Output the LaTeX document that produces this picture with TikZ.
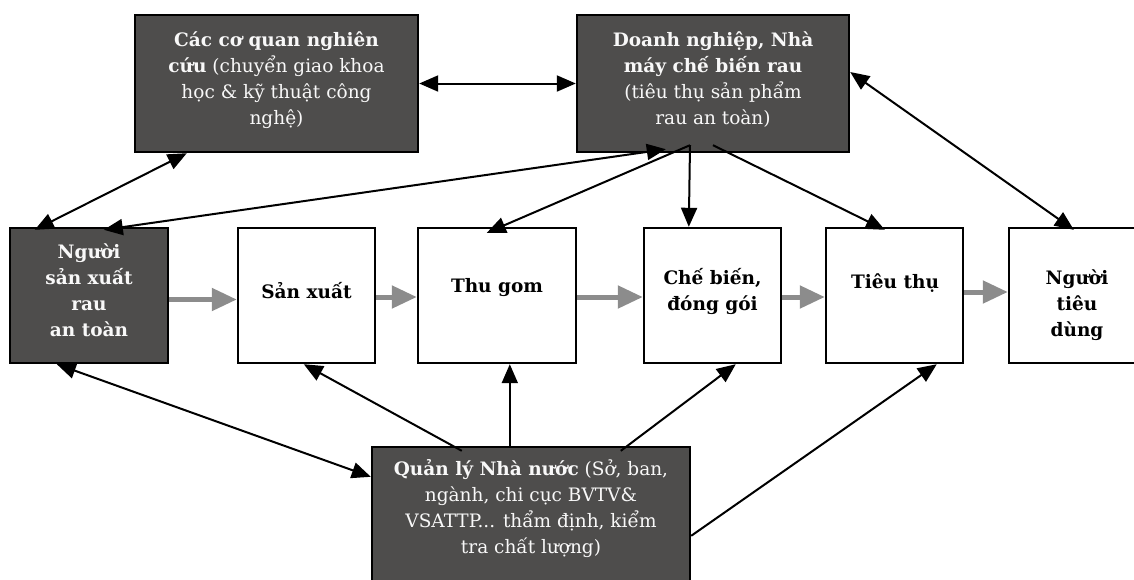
\documentclass[tikz,border=0pt]{standalone}
\usepackage{fontspec}
\setmainfont{DejaVu Serif}
\usetikzlibrary{arrows.meta}
\definecolor{boxdark}{RGB}{78, 77, 76}
\definecolor{flowgray}{RGB}{140, 140, 140}
\definecolor{textlight}{RGB}{248, 248, 248}
\newcommand{\boxfont}{\fontsize{18.5pt}{26pt}\selectfont}

\tikzset{
  darkbox/.style={draw=black, fill=boxdark, line width=2.4pt, inner sep=0pt},
  lightbox/.style={draw=black, fill=white, line width=2.4pt, inner sep=0pt},
  darktext/.style={text=textlight, align=center, font=\boxfont},
  lighttext/.style={text=black, align=center, font=\boxfont\bfseries},
  flow/.style={draw=flowgray, line width=5pt, -{Triangle[length=25pt, width=22pt]}},
  link/.style={line width=2pt}
}

\begin{document}
\begin{tikzpicture}[x=1pt, y=-1pt, >={Triangle[length=19pt, width=16pt]}]
    % Page frame (1134 x 579)
    \useasboundingbox (0,0) rectangle (1134,579);
    \clip (0,0) rectangle (1134,579);

    % 1. Top row
    \node[darkbox, minimum width=283, minimum height=137] (nghiencuu) at (276.5, 83.5) {};
    \node[darkbox, minimum width=272, minimum height=137] (doanhnghiep) at (713, 83.5) {};

    % 2. Middle row (chain)
    \node[darkbox, minimum width=158, minimum height=135] (nguoisx) at (89, 295.5) {};
    \node[lightbox, minimum width=137, minimum height=135] (sanxuat) at (306.5, 295.5) {};
    \node[lightbox, minimum width=158, minimum height=135] (thugom) at (497, 295.5) {};
    \node[lightbox, minimum width=137, minimum height=135] (chebien) at (712.5, 295.5) {};
    \node[lightbox, minimum width=137, minimum height=135] (tieuthu) at (894.5, 295.5) {};
    \node[lightbox, minimum width=137, minimum height=135] (nguoitd) at (1077.5, 295.5) {};

    % 3. Bottom box
    \node[darkbox, minimum width=318, minimum height=143] (quanly) at (531, 518.5) {};

    % 4. Texts
    \node[darktext] (nghiencuu-t) at (276.5, 80)
        {\textbf{Các cơ quan nghiên}\\\textbf{cứu} (chuyển giao khoa\\học \& kỹ thuật công\\nghệ)};
    \node[darktext] (doanhnghiep-t) at (713, 80)
        {\textbf{Doanh nghiệp, Nhà}\\\textbf{máy chế biến rau}\\(tiêu thụ sản phẩm\\rau an toàn)};
    \node[darktext, font=\boxfont\bfseries] (nguoisx-t) at (89, 290) {Người\\sản xuất\\rau\\an toàn};
    \node[lighttext] (sanxuat-t) at (306.5, 291) {Sản xuất};
    \node[lighttext] (thugom-t) at (497, 288) {Thu gom};
    \node[lighttext] (chebien-t) at (712.5, 291) {Chế biến,\\đóng gói};
    \node[lighttext] (tieuthu-t) at (895, 283) {Tiêu thụ};
    \node[lighttext] (nguoitd-t) at (1077, 305) {Người\\tiêu\\dùng};
    \node[darktext] (quanly-t) at (531, 509)
        {\textbf{Quản lý Nhà nước} (Sở, ban,\\ngành, chi cục BVTV\&\\VSATTP... thẩm định, kiểm\\tra chất lượng)};

    % 5. Grey flow arrows
    \draw[flow] ([yshift=-4pt]nguoisx.east) -- ([yshift=-4pt]sanxuat.west);
    \draw[flow] ([yshift=-1.5pt]sanxuat.east) -- ([yshift=-1.5pt]thugom.west);
    \draw[flow] ([yshift=-1.5pt]thugom.east) -- ([yshift=-1.5pt]chebien.west);
    \draw[flow] ([yshift=-1.5pt]chebien.east) -- ([yshift=-1.5pt]tieuthu.west);
    \draw[flow] ([yshift=3.5pt]tieuthu.east) -- ([yshift=3.5pt]nguoitd.west);

    % 6. Links from the top boxes
    \draw[link, <->] ([xshift=53pt]nghiencuu.south west) -- ([xshift=26pt, yshift=-3pt]nguoisx.north west);
    \draw[link, <->] (nghiencuu.east) -- (doanhnghiep.west);
    \draw[link, <->] ([xshift=95pt, yshift=-3pt]nguoisx.north west) -- ([xshift=90pt, yshift=4pt]doanhnghiep.south west);
    \draw[link, ->] ([xshift=-23pt, yshift=8pt]doanhnghiep.south) -- ([xshift=70pt, yshift=-6pt]thugom.north west);
    \draw[link, ->] ([xshift=-23pt, yshift=8pt]doanhnghiep.south) -- ([xshift=46pt]chebien.north west);
    \draw[link, ->] ([yshift=8pt]doanhnghiep.south) -- ([xshift=60pt, yshift=-3pt]tieuthu.north west);
    \draw[link, <->] ([xshift=66pt, yshift=-3pt]nguoitd.north west) -- ([yshift=11.5pt]doanhnghiep.east);

    % 7. Links from the bottom box
    \draw[link, <->] ([xshift=48pt]nguoisx.south west) -- ([yshift=-31pt]quanly.north west);
    \draw[link, ->] ([xshift=91pt, yshift=-5pt]quanly.north west) -- ([xshift=67pt]sanxuat.south west);
    \draw[link, ->] ([xshift=139pt]quanly.north west) -- ([xshift=93pt]thugom.south west);
    \draw[link, ->] ([xshift=250pt, yshift=-5pt]quanly.north west) -- ([xshift=93pt]chebien.south west);
    \draw[link, ->] ([yshift=-90pt]quanly.north east) -- ([xshift=112pt]tieuthu.south west);
\end{tikzpicture}
\end{document}
